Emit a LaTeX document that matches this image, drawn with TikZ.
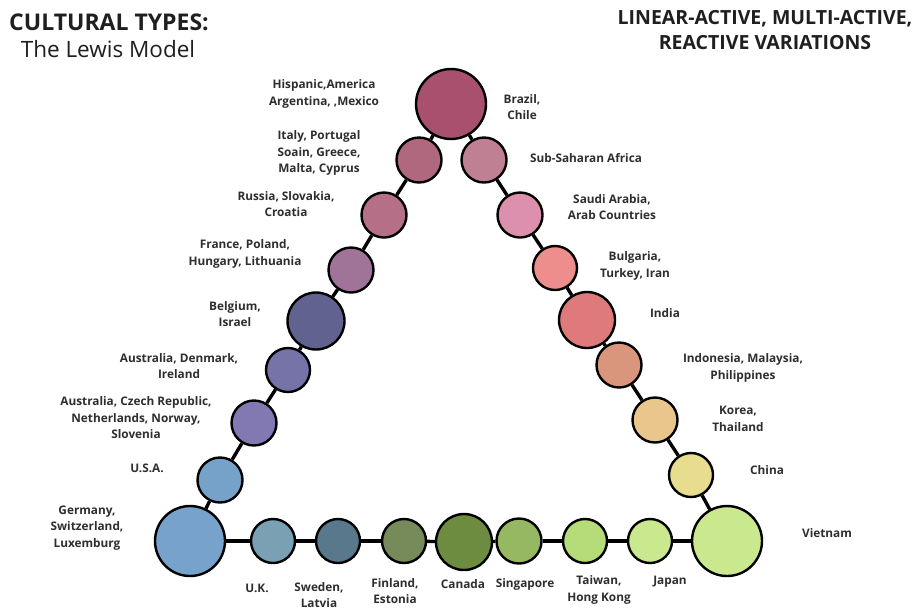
\documentclass[tikz,border=0pt]{standalone}
\usepackage{fontspec}
\setmainfont{Open Sans}
\begin{document}
\begin{tikzpicture}[x=1pt,y=-1pt,
  dot/.style={circle,draw=black,line width=2.4pt,inner sep=0pt,minimum size=#1},
  link/.style={line width=3.4pt,black},
  lbl/.style={align=center,text=black!82,font=\fontsize{11.8}{16.5}\selectfont\bfseries},
  ttl/.style={text=black!88,inner sep=0pt,font=\fontsize{22.5}{26}\selectfont}]
\useasboundingbox (0,0) rectangle (917,614);
\fill[white] (0,0) rectangle (917,614);

% titles
\node[ttl,font=\fontsize{23}{26}\selectfont\bfseries] (t1) at (109,22) {CULTURAL TYPES:};
\node[ttl] (t2) at (108,49) {The Lewis Model};
\node[ttl,font=\fontsize{19.5}{25}\selectfont\bfseries,align=center] (t3) at (765,30)
  {LINEAR-ACTIVE, MULTI-ACTIVE,\\REACTIVE VARIATIONS};

% colours
\definecolor{cTop}{HTML}{A8506E}
\definecolor{cIta}{HTML}{B0687F}
\definecolor{cRus}{HTML}{B57088}
\definecolor{cFra}{HTML}{A07499}
\definecolor{cBel}{HTML}{626290}
\definecolor{cAud}{HTML}{7673A8}
\definecolor{cAuc}{HTML}{8278B2}
\definecolor{cUsa}{HTML}{76A2CA}
\definecolor{cGer}{HTML}{76A2CC}
\definecolor{cUk}{HTML}{7AA0B4}
\definecolor{cSwe}{HTML}{5A788C}
\definecolor{cFin}{HTML}{768A5A}
\definecolor{cCan}{HTML}{6E8C40}
\definecolor{cSin}{HTML}{96B862}
\definecolor{cTai}{HTML}{B6DC7A}
\definecolor{cJap}{HTML}{CAE88E}
\definecolor{cVie}{HTML}{CAE88E}
\definecolor{cChi}{HTML}{E8DC8E}
\definecolor{cKor}{HTML}{EAC58C}
\definecolor{cIdn}{HTML}{DA967C}
\definecolor{cInd}{HTML}{DE7A7C}
\definecolor{cBul}{HTML}{EE8E8C}
\definecolor{cSau}{HTML}{DD90AE}
\definecolor{cSub}{HTML}{C08094}

% circles
\node[dot=70pt,fill=cTop] (top) at (451,104) {};
\node[dot=45pt,fill=cIta] (ita) at (419,160) {};
\node[dot=45pt,fill=cRus] (rus) at (384,215) {};
\node[dot=45pt,fill=cFra] (fra) at (351,270) {};
\node[dot=57pt,fill=cBel] (bel) at (316,321) {};
\node[dot=44pt,fill=cAud] (aud) at (288,370) {};
\node[dot=45pt,fill=cAuc] (auc) at (254,423) {};
\node[dot=45pt,fill=cUsa] (usa) at (220,480) {};
\node[dot=70pt,fill=cGer] (ger) at (190,541) {};
\node[dot=44pt,fill=cUk]  (uk)  at (273,541) {};
\node[dot=44pt,fill=cSwe] (swe) at (338,541) {};
\node[dot=44pt,fill=cFin] (fin) at (404,541) {};
\node[dot=56pt,fill=cCan] (can) at (464,542) {};
\node[dot=45pt,fill=cSin] (sin) at (519,541) {};
\node[dot=44pt,fill=cTai] (tai) at (585,541) {};
\node[dot=44pt,fill=cJap] (jap) at (650,541) {};
\node[dot=70pt,fill=cVie] (vie) at (727,541) {};
\node[dot=44pt,fill=cChi] (chi) at (691,475) {};
\node[dot=45pt,fill=cKor] (kor) at (655,420) {};
\node[dot=45pt,fill=cIdn] (idn) at (619,365) {};
\node[dot=56pt,fill=cInd] (ind) at (587,320) {};
\node[dot=44pt,fill=cBul] (bul) at (555,268) {};
\node[dot=45pt,fill=cSau] (sau) at (520,215) {};
\node[dot=45pt,fill=cSub] (sub) at (484,160) {};

% connectors between neighbouring circles
\foreach \a/\b in {top/ita,ita/rus,rus/fra,fra/bel,bel/aud,aud/auc,auc/usa,usa/ger,
                   ger/uk,uk/swe,swe/fin,fin/can,can/sin,sin/tai,tai/jap,jap/vie,
                   top/sub,sub/sau,sau/bul,bul/ind,ind/idn,idn/kor,kor/chi,chi/vie}
  \draw[link] (\a) -- (\b);

% labels
\node[lbl] (lTop) at (324,94) {Hispanic,America\\Argentina, ,Mexico};
\node[lbl] (lBra) at (522,107) {Brazil,\\Chile};
\node[lbl] (lIta) at (319,153) {Italy, Portugal\\Soain, Greece,\\Malta, Cyprus};
\node[lbl] (lSub) at (586,158) {Sub-Saharan Africa};
\node[lbl] (lRus) at (286,204) {Russia, Slovakia,\\Croatia};
\node[lbl] (lSau) at (612,207) {Saudi Arabia,\\Arab Countries};
\node[lbl] (lFra) at (245,254) {France, Poland,\\Hungary, Lithuania};
\node[lbl] (lBul) at (635,266) {Bulgaria,\\Turkey, Iran};
\node[lbl] (lBel) at (235,314) {Belgium,\\Israel};
\node[lbl] (lInd) at (665,313) {India};
\node[lbl] (lAud) at (179,366) {Australia, Denmark,\\Ireland};
\node[lbl] (lIdn) at (743,368) {Indonesia, Malaysia,\\Philippines};
\node[lbl] (lAuc) at (136,418) {Australia, Czech Republic,\\Netherlands, Norway,\\Slovenia};
\node[lbl] (lKor) at (738,419) {Korea,\\Thailand};
\node[lbl] (lUsa) at (147,468) {U.S.A.};
\node[lbl] (lChi) at (767,470) {China};
\node[lbl] (lGer) at (87,528) {Germany,\\Switzerland,\\Luxemburg};
\node[lbl] (lVie) at (827,533) {Vietnam};
\node[lbl] (lUk)  at (257,588) {U.K.};
\node[lbl] (lSwe) at (319,595) {Sweden,\\Latvia};
\node[lbl] (lFin) at (395,591) {Finland,\\Estonia};
\node[lbl] (lCan) at (463,584) {Canada};
\node[lbl] (lSin) at (525,584) {Singapore};
\node[lbl] (lTai) at (599,590) {Taiwan,\\Hong Kong};
\node[lbl] (lJap) at (670,582) {Japan};
\end{tikzpicture}
\end{document}
